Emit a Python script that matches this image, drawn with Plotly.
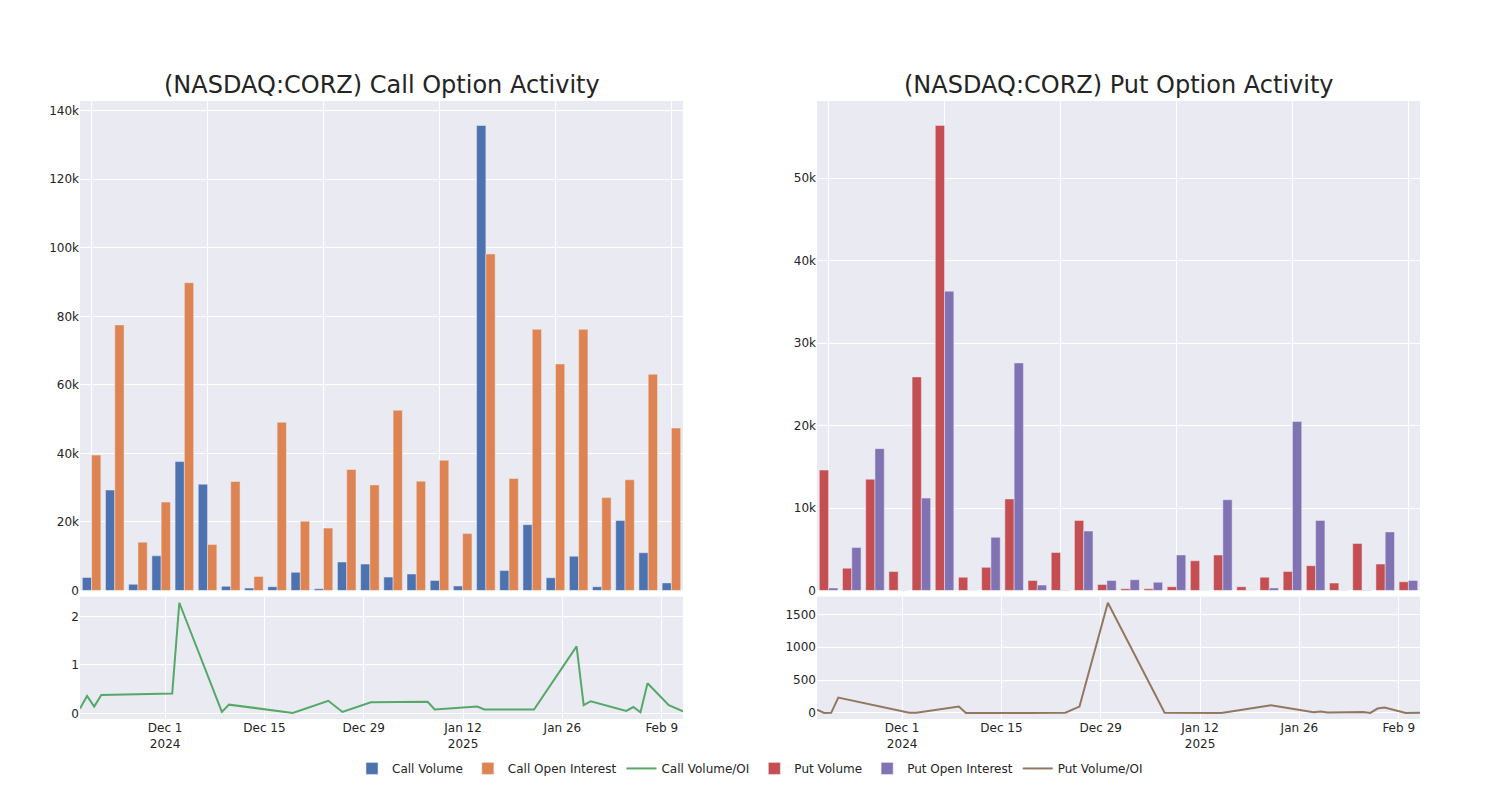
import plotly.graph_objects as go
from plotly.subplots import make_subplots

dates = ["2024-11-19", "2024-11-20", "2024-11-21", "2024-11-22", "2024-12-02", "2024-12-03",
         "2024-12-09", "2024-12-10", "2024-12-19", "2024-12-24", "2024-12-26", "2024-12-30",
         "2025-01-07", "2025-01-08", "2025-01-14", "2025-01-15", "2025-01-22", "2025-01-28",
         "2025-01-29", "2025-01-30", "2025-02-04", "2025-02-05", "2025-02-06", "2025-02-07",
         "2025-02-10", "2025-02-12"]

call_volume = [3800, 29300, 1800, 10100, 37600, 31000, 1200, 700, 1100, 5300, 500, 8300,
               7700, 3900, 4800, 2900, 1300, 135700, 5800, 19200, 3700, 10000, 1100, 20400,
               11000, 2200]
call_oi = [39500, 77500, 14100, 25800, 89800, 13400, 31800, 4100, 49100, 20200, 18200, 35300,
           30800, 52600, 31900, 38000, 16600, 98200, 32700, 76200, 66100, 76200, 27100, 32300,
           63100, 47400]
call_ratio = [0.10, 0.36, 0.14, 0.38, 0.41, 2.28, 0.03, 0.18, 0.01, 0.26, 0.03, 0.23,
              0.24, 0.08, 0.14, 0.08, 0.08, 1.38, 0.17, 0.25, 0.05, 0.13, 0.02, 0.62,
              0.17, 0.04]

put_volume = [14600, 2700, 13500, 2300, 25900, 56400, 1600, 2800, 11100, 1200, 4600, 8500,
              730, 200, 200, 450, 3600, 4300, 450, 1600, 2300, 3000, 900, 5700, 3200, 1050]
put_oi = [300, 5200, 17200, 10, 11200, 36300, 17, 6450, 27600, 650, 48, 7200,
          1200, 1300, 1000, 4300, 31, 11000, 22, 300, 20500, 8500, 14, 70, 7100, 1200]
put_ratio = [50, 0, 1, 233, 2, 2, 96, 0, 0, 2, 96, 1677, 1, 0, 0, 0, 117, 10, 20, 5,
             15, 0, 66, 81, 0, 1]

fig = make_subplots(rows=2, cols=2, row_heights=[0.8, 0.2], vertical_spacing=0.01,
                    horizontal_spacing=0.1,
                    subplot_titles=("(NASDAQ:CORZ) Call Option Activity",
                                    "(NASDAQ:CORZ) Put Option Activity", "", ""))

fig.add_trace(go.Bar(x=dates, y=call_volume, name="Call Volume"), row=1, col=1)
fig.add_trace(go.Bar(x=dates, y=call_oi, name="Call Open Interest"), row=1, col=1)
fig.add_trace(go.Scatter(x=dates, y=call_ratio, mode="lines", name="Call Volume/OI"), row=2, col=1)
fig.add_trace(go.Bar(x=dates, y=put_volume, name="Put Volume"), row=1, col=2)
fig.add_trace(go.Bar(x=dates, y=put_oi, name="Put Open Interest"), row=1, col=2)
fig.add_trace(go.Scatter(x=dates, y=put_ratio, mode="lines", name="Put Volume/OI"), row=2, col=2)

fig.update_layout(template="seaborn", width=1484, height=787, barmode="group",
                  margin=dict(l=72, r=72, t=93, b=72),
                  font=dict(family="DejaVu Sans", size=12),
                  legend=dict(orientation="h", x=0.5, xanchor="center",
                              y=-0.08, yanchor="middle"))
for ann in fig.layout.annotations:
    ann.font.size = 24

fig.update_xaxes(type="category", showticklabels=False, tick0=0, dtick=5, row=1, col=1)
fig.update_xaxes(type="category", showticklabels=False, tick0=0, dtick=5, row=1, col=2)
fig.update_xaxes(type="date", row=2, col=1)
fig.update_xaxes(type="date", row=2, col=2)

fig.write_html("out.html")
